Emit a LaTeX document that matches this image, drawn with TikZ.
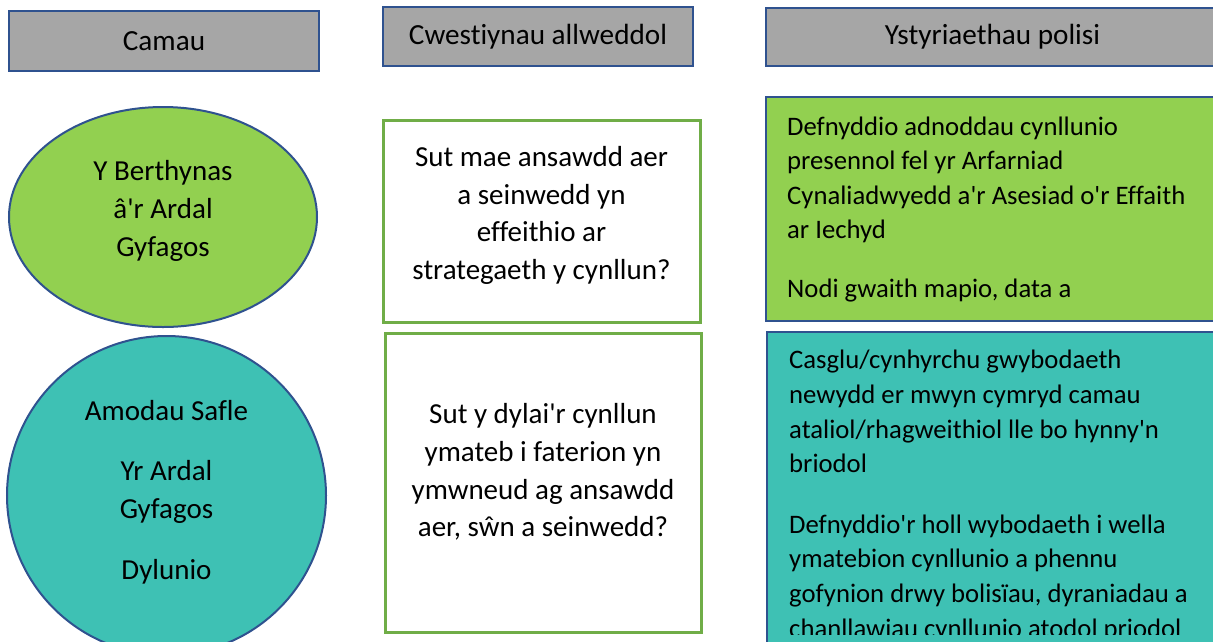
\documentclass[tikz,border=0pt]{standalone}
\usepackage{fontspec}
\setmainfont{Carlito}[Ligatures=CommonOff]
\usetikzlibrary{shapes.geometric}
\definecolor{hdrgray}{HTML}{A6A6A6}
\definecolor{edgeblue}{HTML}{2F528F}
\definecolor{limefill}{HTML}{92D050}
\definecolor{tealfill}{HTML}{3EC1B4}
\definecolor{boxgreen}{HTML}{70AD47}
\newcommand\ap{\textquotesingle}
\newcommand\hdrsize{\fontsize{29.2}{36}\selectfont}
\newcommand\midsize{\fontsize{29}{37.7}\selectfont}
\newcommand\cirsize{\fontsize{29}{38}\selectfont}
\newcommand\rsize{\fontsize{26.7}{34.6}\selectfont}
\begin{document}
\begin{tikzpicture}[x=1pt,y=-1pt,
  hdr/.style={draw=edgeblue,line width=2pt,fill=hdrgray,inner sep=0pt,font=\hdrsize},
  stage/.style={draw=edgeblue,line width=2pt,inner sep=0pt},
  qbox/.style={draw=boxgreen,line width=3pt,fill=white,inner sep=0pt},
  pbox/.style={draw=edgeblue,line width=2.5pt,inner sep=0pt},
  ctext/.style={align=center,inner sep=0pt,font=\midsize},
  stext/.style={align=center,inner sep=0pt,font=\cirsize},
  ltext/.style={align=left,inner sep=0pt,anchor=base west,font=\rsize}]
\useasboundingbox (0,0) rectangle (1213,641);
\clip (0,0) rectangle (1213,641);
% headers
\node[hdr,minimum width=310pt,minimum height=60pt] (h1) at (164,41) {Camau};
\node[hdr,minimum width=310pt,minimum height=59pt] (h2) at (538,36.5) {Cwestiynau allweddol};
\node[hdr,minimum width=453pt,minimum height=58pt] (h3) at (992.5,36.5) {Ystyriaethau polisi};
% stages
\node[stage,ellipse,fill=limefill,minimum width=308pt,minimum height=220pt] (e1) at (163,217) {};
\node[stext] (e1t) at (163,210.5) {Y Berthynas\\ â\ap r Ardal\\ Gyfagos};
\node[stage,circle,fill=tealfill,minimum size=319pt] (e2) at (166.5,495.5) {};
\node[stext] (e2t) at (166.5,492) {Amodau Safle\\[22.5pt] Yr Ardal\\ Gyfagos\\[22.5pt] Dylunio};
% questions
\node[qbox,minimum width=317pt,minimum height=202pt] (q1) at (541.5,221) {};
\node[ctext] (q1t) at (541.5,215.5) {Sut mae ansawdd aer\\ a seinwedd yn\\ effeithio ar\\ strategaeth y cynllun?};
\node[qbox,minimum width=316pt,minimum height=299pt] (q2) at (543,482.5) {};
\node[ctext] (q2t) at (543,472) {Sut y dylai\ap r cynllun\\ ymateb i faterion yn\\ ymwneud ag ansawdd\\ aer, sŵn a seinwedd?};
% policy
\node[pbox,fill=limefill,minimum width=453pt,minimum height=224pt] (p1) at (992.5,209) {};
\node[ltext] (p1t) at (787,297) {Defnyddio adnoddau cynllunio\\ presennol fel yr Arfarniad\\ Cynaliadwyedd a\ap r Asesiad o\ap r Effaith\\ ar Iechyd\\[23.5pt] Nodi gwaith mapio, data a};
\node[pbox,fill=tealfill,minimum width=452pt,minimum height=330pt] (p2) at (993,497) {};
\begin{scope}
\clip (768,334) rectangle (1213,634);
\node[ltext] (p2t) at (789,637) {Casglu/cynhyrchu gwybodaeth\\ newydd er mwyn cymryd camau\\ ataliol/rhagweithiol lle bo hynny\ap n\\ briodol\\[26pt] Defnyddio\ap r holl wybodaeth i wella\\ ymatebion cynllunio a phennu\\ gofynion drwy bolisïau, dyraniadau a\\ chanllawiau cynllunio atodol priodol};
\end{scope}
\end{tikzpicture}
\end{document}
